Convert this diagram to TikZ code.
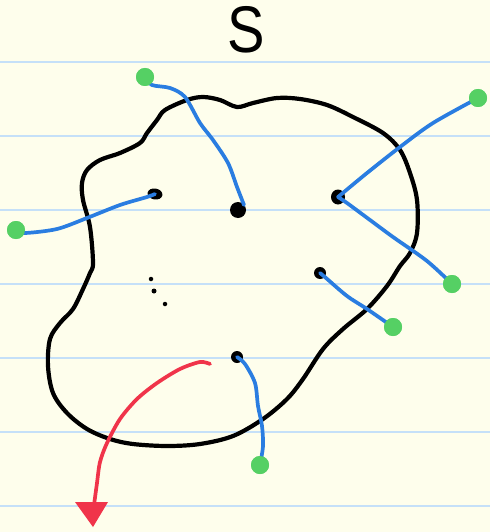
\documentclass[tikz,border=0pt]{standalone}
\usepackage{fontspec}
\setmainfont{Liberation Sans}
\usetikzlibrary{arrows.meta,shapes.geometric}
\definecolor{paper}{RGB}{254,254,236}
\definecolor{rule}{RGB}{197,224,248}
\definecolor{wire}{RGB}{42,125,225}
\definecolor{leaf}{RGB}{85,208,100}
\definecolor{arrowred}{RGB}{240,52,74}
\tikzset{
  blackdot/.style={circle,fill=black,inner sep=0pt,minimum size=#1},
  greendot/.style={circle,fill=leaf,inner sep=0pt,minimum size=18pt},
  wireline/.style={draw=wire,line width=3.7pt,line cap=round,line join=round},
  blobline/.style={draw=black,line width=4.2pt,line join=round},
  ruleline/.style={draw=rule,line width=1.3pt},
}
\begin{document}
\begin{tikzpicture}[x=1pt,y=-1pt]
\useasboundingbox (0,0) rectangle (490,532);
\fill[paper] (0,0) rectangle (490,532);
\foreach \yy in {62,136,210,284,358,432,506}
  \draw[ruleline] (0,\yy) -- (490,\yy);
% title
\node[inner sep=0pt,xscale=0.85] (title) at (246,30) {\fontsize{66}{66}\selectfont S};
% blob
\draw[blobline] plot[smooth cycle,tension=0.55] coordinates {
 (165,110) (187,100) (203,97) (220,100) (237,107) (253,103) (277,98) (300,99)
 (327,105) (353,117) (383,133) (400,150) (410,173) (417,200) (417,233)
 (410,253) (400,266) (387,286) (367,309) (343,329) (323,349) (303,379)
 (287,399) (263,419) (233,436) (200,444) (167,446) (133,444) (110,439)
 (87,429) (67,413) (53,393) (48,366) (50,339) (60,323) (73,309) (83,289)
 (90,273) (93,263) (90,227) (83,200) (82,183) (87,170) (100,160) (120,153)
 (140,143) (147,133) (157,120)};
% black dots
\node[ellipse,fill=black,inner sep=0pt,minimum width=15pt,minimum height=11pt,rotate=-10] (d1) at (155,194) {};
\node[blackdot=16pt] (d2) at (238,210) {};
\node[ellipse,fill=black,inner sep=0pt,minimum width=14pt,minimum height=15pt] (d3) at (338,197) {};
\node[blackdot=12pt] (d4) at (320,273) {};
\node[blackdot=12pt] (d5) at (237,357) {};
\node[blackdot=4.5pt] (e1) at (151,279) {};
\node[blackdot=5pt] (e2) at (154,291) {};
\node[blackdot=4.5pt] (e3) at (165,304) {};
% green dots
\node[greendot] (g1) at (145,77) {};
\node[greendot] (g2) at (478,98) {};
\node[greendot] (g3) at (16,230) {};
\node[greendot] (g4) at (452,284) {};
\node[greendot] (g5) at (393,327) {};
\node[greendot] (g6) at (260,465) {};
% wires
\draw[wireline] plot[smooth,tension=0.5] coordinates {(g1.center) (152,85) (170,88) (185,97) (200,123) (213,140) (228,163) (237,187) (244,205)};
\draw[wireline] plot[smooth,tension=0.5] coordinates {(g3.center) (25,233) (57,229) (87,218) (120,205) (147,197) (d1.center)};
\draw[wireline] plot[smooth,tension=0.5] coordinates {(d3.center) (367,173) (400,147) (433,123) (g2.center)};
\draw[wireline] plot[smooth,tension=0.5] coordinates {(d3.center) (347,203) (370,220) (393,237) (427,261) (g4.center)};
\draw[wireline] plot[smooth,tension=0.5] coordinates {(d4.center) (326,278) (347,296) (367,309) (g5.center)};
\draw[wireline] plot[smooth,tension=0.5] coordinates {(d5.center) (245,364) (255,383) (258,406) (262,426) (263,446) (g6.center)};
\node[greendot] at (g1) {};
\node[greendot] at (g2) {};
\node[greendot] at (g3) {};
\node[greendot] at (g4) {};
\node[greendot] at (g5) {};
\node[greendot] at (g6) {};
% red arrow
\coordinate (rs) at (210,364);
\coordinate (re) at (94,505);
\draw[draw=arrowred,line width=3.7pt,line cap=round] plot[smooth,tension=0.5] coordinates {(rs) (200,362) (180,369) (157,383) (137,399) (120,419) (107,443) (100,462) (97,483) (re)};
\fill[arrowred] (75,502) -- (108,502) -- (93,527) -- cycle;
\end{tikzpicture}
\end{document}
